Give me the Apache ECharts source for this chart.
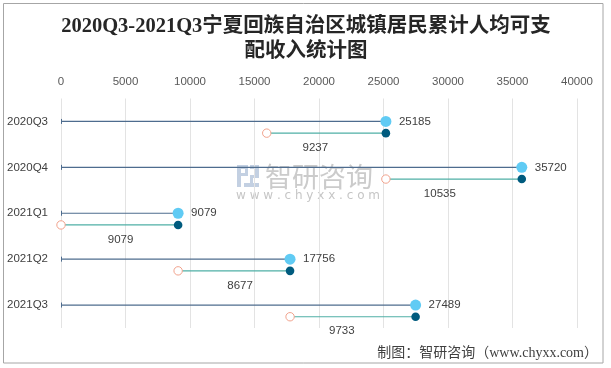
<!DOCTYPE html>
<html>
<head>
<meta charset="utf-8">
<script src="https://cdn.jsdelivr.net/npm/echarts@6/dist/echarts.min.js"></script>
<style>
html,body{margin:0;padding:0;background:#fff;}
#main{width:611px;height:368px;}
</style>
</head>
<body>
<div id="main"></div>
<script>
// ---- data ----
const categories = ['2020Q3', '2020Q4', '2021Q1', '2021Q2', '2021Q3'];
const cumulativeIncome = [25185, 35720, 9079, 17756, 27489];   // 累计人均可支配收入
const previousIncome = [15948, 25185, 0, 9079, 17756];          // 上一期累计值
const quarterIncrease = [9237, 10535, 9079, 8677, 9733];        // 本期增量
const axisMin = 0, axisMax = 40000, axisStep = 5000;

// ---- style ----
const incLabelDx = [-11, -14, 1, 6, -11];
const labelFont = '"Liberation Sans", "Noto Sans CJK SC", sans-serif';

const seriesData = categories.map((c, i) => [i, previousIncome[i], cumulativeIncome[i], quarterIncrease[i]]);

const chart = echarts.init(document.getElementById('main'), null, {renderer: 'canvas'});

function renderItem(params, api) {
  const idx = api.value(0);
  const prev = api.value(1);
  const val = api.value(2);
  const inc = api.value(3);
  const p0 = api.coord([axisMin, idx]);
  const pv = api.coord([val, idx]);
  const pp = api.coord([prev, idx]);
  const y1 = p0[1];
  const y2 = y1 + 11.7;
  const i = params.dataIndex;
  return {
    type: 'group',
    children: [
      {type: 'line', shape: {x1: p0[0], y1: y1, x2: pv[0], y2: y1}, style: {stroke: '#4E6C8E', lineWidth: 1.2}},
      {type: 'line', shape: {x1: p0[0] + 0.5, y1: y1 - 2.5, x2: p0[0] + 0.5, y2: y1 + 2.5}, style: {stroke: '#4E6C8E', lineWidth: 1}},
      {type: 'line', shape: {x1: pp[0], y1: y2, x2: pv[0], y2: y2}, style: {stroke: '#4FAFA6', lineWidth: 1.2}},
      {type: 'circle', shape: {cx: pp[0], cy: y2, r: 4.2}, style: {fill: '#fff', stroke: '#F2A28C', lineWidth: 1}},
      {type: 'circle', shape: {cx: pv[0], cy: y1, r: 5.5}, style: {fill: '#60CBF4'}},
      {type: 'circle', shape: {cx: pv[0], cy: y2, r: 4.3}, style: {fill: '#005B7E'}},
      {type: 'text', x: pv[0] + 13, y: y1, style: {text: String(val), font: '11.5px ' + labelFont, fill: '#404040', align: 'left', verticalAlign: 'middle'}},
      {type: 'text', x: (pp[0] + pv[0]) / 2 + incLabelDx[i], y: y2 + 14.5, style: {text: String(inc), font: '11.5px ' + labelFont, fill: '#404040', align: 'center', verticalAlign: 'middle'}}
    ]
  };
}

const option = {
  backgroundColor: '#ffffff',
  animation: false,
  grid: {left: 61, right: 34, top: 98.5, bottom: 40},
  xAxis: {
    type: 'value', position: 'top', min: axisMin, max: axisMax, interval: axisStep,
    axisLine: {show: false}, axisTick: {show: false},
    splitLine: {lineStyle: {color: '#E3E3E3', width: 1}},
    axisLabel: {color: '#595959', fontSize: 11.5, fontFamily: labelFont, margin: 11, formatter: v => String(v)}
  },
  yAxis: {
    type: 'category', data: categories, inverse: true,
    axisLine: {show: false}, axisTick: {show: false}, splitLine: {show: false},
    axisLabel: {color: '#404040', fontSize: 11.5, fontFamily: labelFont, margin: 13}
  },
  graphic: [
    {type: 'rect', shape: {x: 3.5, y: 3.5, width: 599.5, height: 359.5}, style: {fill: 'none', stroke: '#A6A6A6', lineWidth: 1}, z: -10},
    {type: 'text', x: 306, y: 14.5, style: {text: '2020Q3-2021Q3宁夏回族自治区城镇居民累计人均可支\n配收入统计图', font: 'bold 20.5px "Liberation Serif", "Noto Sans CJK SC", serif', fill: '#262626', align: 'center', verticalAlign: 'top', lineHeight: 25}},
    {type: 'text', x: 598, y: 353, style: {text: '制图：智研咨询（www.chyxx.com）', font: '14px "Liberation Serif", "Noto Sans CJK SC", serif', fill: '#404040', align: 'right', verticalAlign: 'middle'}},
    // watermark
    {type: 'group', z: 0, children: [
      {type: 'rect', shape: {x: 237, y: 165, width: 4, height: 22}, style: {fill: '#C3D0E2'}},
      {type: 'rect', shape: {x: 237, y: 165, width: 11, height: 4}, style: {fill: '#C3D0E2'}},
      {type: 'rect', shape: {x: 245, y: 165, width: 3, height: 11}, style: {fill: '#C3D0E2'}},
      {type: 'rect', shape: {x: 237, y: 173, width: 11, height: 3}, style: {fill: '#C3D0E2'}},
      {type: 'rect', shape: {x: 250, y: 165, width: 9, height: 4}, style: {fill: '#C3D0E2'}},
      {type: 'rect', shape: {x: 255, y: 165, width: 4, height: 12}, style: {fill: '#C3D0E2'}},
      {type: 'rect', shape: {x: 250, y: 175, width: 9, height: 3}, style: {fill: '#C3D0E2'}},
      {type: 'rect', shape: {x: 250, y: 175, width: 3, height: 12}, style: {fill: '#C3D0E2'}},
      {type: 'rect', shape: {x: 244, y: 183, width: 15, height: 4}, style: {fill: '#C3D0E2'}},
      {type: 'text', x: 265, y: 163, style: {text: '智研咨询', font: '27px "Noto Sans CJK SC", sans-serif', fill: '#CBCBCB'}},
      {type: 'text', x: 236, y: 190, style: {text: 'w w w . c h y x x . c o m', font: '12px "DejaVu Sans", sans-serif', fill: '#C6C6C6'}}
    ]}
  ],
  series: [{
    type: 'custom',
    renderItem: renderItem,
    data: seriesData,
    encode: {x: [1, 2], y: 0},
    clip: false,
    z: 5
  }]
};
chart.setOption(option);
</script>
</body>
</html>
